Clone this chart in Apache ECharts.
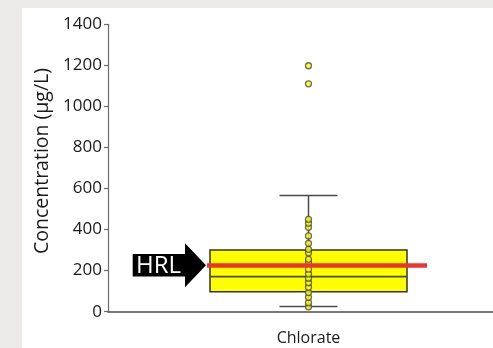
<!DOCTYPE html>
<html>
<head>
<meta charset="utf-8">
<script src="https://cdn.jsdelivr.net/npm/echarts@6/dist/echarts.min.js"></script>
<style>
  html, body { margin:0; padding:0; width:493px; height:348px; background:#ecebe9; overflow:hidden; }
  #chart { position:absolute; left:22px; top:8px; width:471px; height:340px; background:#ffffff; }
</style>
</head>
<body>
<div id="chart"></div>
<script>
// ---- data ----
const categories = ['Chlorate'];
// box: [low whisker, Q1, median, Q3, high whisker]
const boxStats = [25, 97, 171, 300, 566];
// individual sample points (µg/L)
const samples = [24, 44, 70, 93, 119, 141, 163, 184, 207, 239, 255, 287, 304, 333, 369, 411, 431, 450, 1110, 1198];
const hrl = 226;
const yTicks = [0, 200, 400, 600, 800, 1000, 1200, 1400];

const BOX_W = 197, CAP_W = 58;
const FONT = '"Open Sans", sans-serif';

const chart = echarts.init(document.getElementById('chart'));

function renderBox(params, api) {
  const x = api.value(0);
  const low = api.coord([x, api.value(1)]);
  const q1 = api.coord([x, api.value(2)]);
  const med = api.coord([x, api.value(3)]);
  const q3 = api.coord([x, api.value(4)]);
  const high = api.coord([x, api.value(5)]);
  const cx = low[0], bw = BOX_W / 2, cw = CAP_W / 2;
  const ws = { stroke: '#4a4a4a', lineWidth: 1.5 };
  return {
    type: 'group',
    children: [
      { type: 'line', shape: { x1: cx, y1: high[1], x2: cx, y2: low[1] }, style: ws },
      { type: 'line', shape: { x1: cx - cw, y1: high[1], x2: cx + cw, y2: high[1] }, style: ws },
      { type: 'line', shape: { x1: cx - cw, y1: low[1], x2: cx + cw, y2: low[1] }, style: ws },
      { type: 'rect', shape: { x: cx - bw, y: q3[1], width: 2 * bw, height: q1[1] - q3[1] },
        style: { fill: '#ffff00', stroke: '#333333', lineWidth: 1.5 } },
      { type: 'line', shape: { x1: cx - bw, y1: med[1], x2: cx + bw, y2: med[1] },
        style: { stroke: '#4a4a2a', lineWidth: 1.8 } }
    ]
  };
}

chart.setOption({
  animation: false,
  grid: { left: 86, top: 16.3, width: 401, height: 287.4, containLabel: false, outerBoundsMode: 'none' },
  xAxis: {
    type: 'category',
    data: categories,
    axisLine: { lineStyle: { color: '#4d4d4d', width: 1.5 } },
    axisTick: { show: false },
    axisLabel: { fontFamily: FONT, fontSize: 16, color: '#1a1a1a', margin: 19 }
  },
  yAxis: {
    type: 'value',
    min: 0, max: 1400, interval: 200,
    name: 'Concentration (µg/L)',
    nameLocation: 'middle',
    nameRotate: 90,
    nameGap: 56,
    nameTextStyle: { fontFamily: FONT, fontSize: 19.5, color: '#1a1a1a', padding: [0, 0, 0, 14] },
    axisLine: { show: true, lineStyle: { color: '#6b6b6b', width: 1.2 } },
    axisTick: { show: true, length: 4, lineStyle: { color: '#6b6b6b', width: 1.2 } },
    axisLabel: { fontFamily: FONT, fontSize: 17, color: '#1a1a1a', margin: 6,
      formatter: v => yTicks.includes(v) ? String(v) : '' },
    splitLine: { show: false }
  },
  series: [
    {
      type: 'custom',
      renderItem: renderBox,
      data: [[0].concat(boxStats)],
      encode: { x: 0, y: [1, 2, 3, 4, 5] },
      z: 2
    },
    {
      type: 'scatter',
      data: samples.map(v => [0, v]),
      symbol: 'circle',
      symbolSize: 6,
      itemStyle: { color: '#ffff00', borderColor: '#4a4a4a', borderWidth: 1.3 },
      z: 3
    },
    {
      type: 'line',
      data: [],
      z: 4,
      markLine: {
        silent: true,
        symbol: ['none', 'none'],
        label: { show: false },
        lineStyle: { color: '#ee3333', width: 4.5, type: 'solid' },
        data: [[{ x: 185, yAxis: hrl }, { x: 405, yAxis: hrl }]]
      }
    }
  ]
});

const ty = chart.convertToPixel({ yAxisIndex: 0 }, hrl);
chart.setOption({
  graphic: [
    {
      type: 'polygon',
      z: 10,
      shape: { points: [
        [110.7, ty - 11.3], [163, ty - 11.3], [163, ty - 22], [184, ty],
        [163, ty + 22], [163, ty + 11.3], [110.7, ty + 11.3]
      ] },
      style: { fill: '#000000' }
    },
    {
      type: 'text',
      z: 11,
      x: 136.5, y: ty + 1,
      style: { text: 'HRL', fill: '#ffffff', font: '24px "Open Sans", sans-serif',
        align: 'center', verticalAlign: 'middle' }
    }
  ]
});
</script>
</body>
</html>
